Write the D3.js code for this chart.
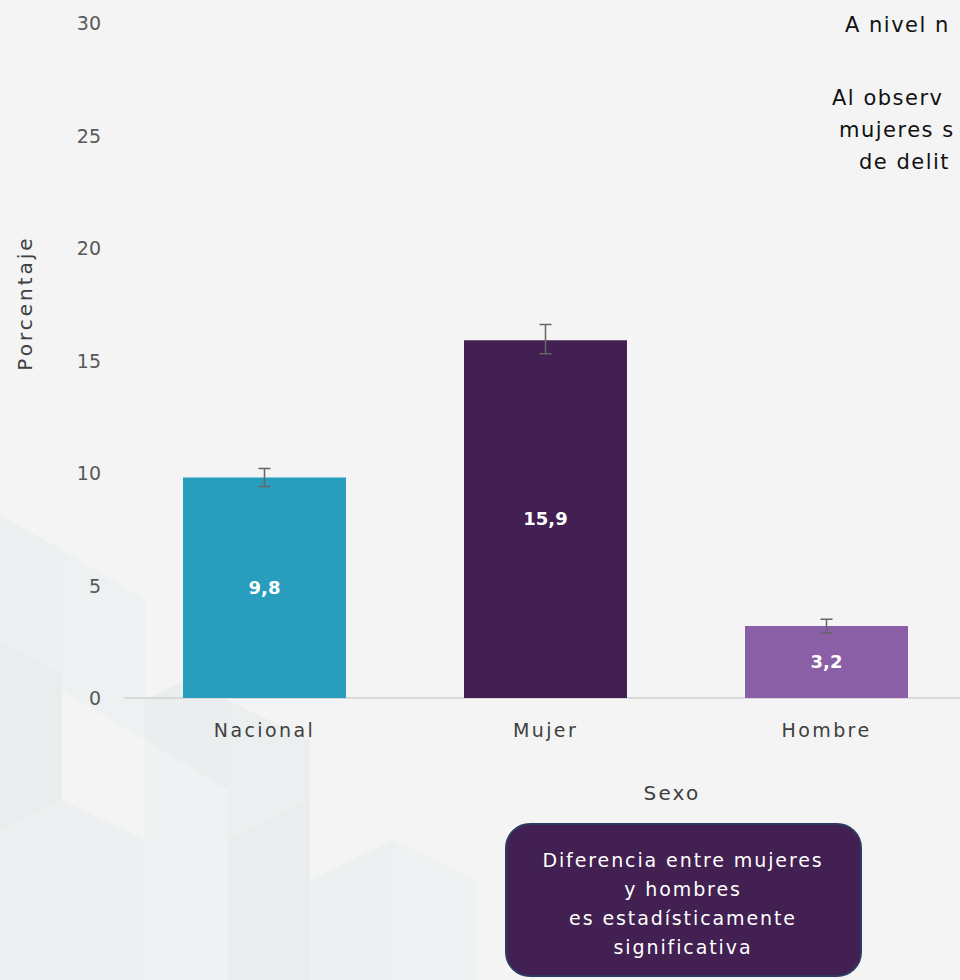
<!DOCTYPE html>
<html><head><meta charset="utf-8">
<script src="https://cdn.jsdelivr.net/npm/d3@7"></script>
<style>html,body{margin:0;padding:0;background:#f4f4f4;overflow:hidden}</style>
</head><body><svg id="c" width="960" height="980"></svg>
<script>
const categories = ["Nacional", "Mujer", "Hombre"];
const values = [9.8, 15.9, 3.2];
const errLow = [9.4, 15.3, 2.9];
const errHigh = [10.2, 16.6, 3.5];
const valueLabels = ["9,8", "15,9", "3,2"];
const barColors = ["#289dbe", "#422051", "#8a5fa5"];
const yTicks = [0, 5, 10, 15, 20, 25, 30];
const noteLines = ["Diferencia entre mujeres", "y hombres", "es  estadísticamente", "significativa"];
const sideText = [["A nivel n", 845, 25], ["Al observ", 832, 98], ["mujeres s", 839, 130], ["de delit", 859, 162]];

const FONT = "'DejaVu Sans', sans-serif";
const svg = d3.select("#c");
svg.append("rect").attr("width", 960).attr("height", 980).attr("fill", "#f4f4f4");

// faint background geometric pattern
const bg = svg.append("g").attr("opacity", 0.45);
const polys = [
  [[0,515],[62,550],[62,800],[0,765]],
  [[0,640],[62,675],[62,800],[0,830]],
  [[62,550],[145,600],[145,740],[62,690]],
  [[145,700],[228,660],[228,840],[145,880]],
  [[62,800],[145,840],[145,980],[62,980]],
  [[145,740],[228,790],[228,980],[145,980]],
  [[228,700],[310,740],[310,800],[228,840]],
  [[228,840],[310,800],[310,980],[228,980]],
  [[0,830],[62,800],[62,980],[0,980]],
  [[310,880],[393,840],[393,980],[310,980]],
  [[393,840],[475,880],[475,980],[393,980]]
];
const pcol = ["#e4ecee","#dfe6e8","#e7eff0","#e2e8ea","#e6ecee","#e9eff0","#e3e9eb","#dfe6e8","#e4eaec","#e6eced","#ebf0f1"];
polys.forEach((p,i)=>bg.append("polygon").attr("points", p.map(d=>d.join(",")).join(" ")).attr("fill", pcol[i]));

const x = d3.scaleBand().domain(categories).range([124, 967]).paddingInner(0.42).paddingOuter(0.21);
const y = d3.scaleLinear().domain([0, 30]).range([698, 23]);

// y axis labels
const yAxis = d3.axisLeft(y).tickValues(yTicks).tickSize(0).tickPadding(0).tickFormat(d3.format("d"));
const yg = svg.append("g").attr("transform", "translate(101,0)").call(yAxis);
yg.select(".domain").remove();
yg.selectAll("text").attr("font-family", FONT).attr("font-size", 19).attr("fill", "#595959").attr("dy", "0.35em");

// baseline
svg.append("line").attr("x1", 124).attr("x2", 960).attr("y1", y(0)).attr("y2", y(0)).attr("stroke", "#d9d9d9").attr("stroke-width", 2);

// bars
svg.selectAll(".bar").data(categories).enter().append("rect")
  .attr("x", d => x(d)).attr("width", x.bandwidth())
  .attr("y", (d,i) => y(values[i])).attr("height", (d,i) => y(0) - y(values[i]))
  .attr("fill", (d,i) => barColors[i]);

// error bars
const eg = svg.append("g").attr("stroke", "#666").attr("stroke-width", 1.5);
categories.forEach((c,i) => {
  const cx = x(c) + x.bandwidth()/2;
  eg.append("line").attr("x1", cx).attr("x2", cx).attr("y1", y(errHigh[i])).attr("y2", y(errLow[i]));
  eg.append("line").attr("x1", cx-6).attr("x2", cx+6).attr("y1", y(errHigh[i])).attr("y2", y(errHigh[i]));
  eg.append("line").attr("x1", cx-6).attr("x2", cx+6).attr("y1", y(errLow[i])).attr("y2", y(errLow[i]));
});

// value labels
svg.selectAll(".vl").data(categories).enter().append("text")
  .attr("x", d => x(d) + x.bandwidth()/2)
  .attr("y", (d,i) => (y(values[i]) + y(0))/2)
  .attr("dy", "0.35em").attr("text-anchor", "middle")
  .attr("font-family", FONT).attr("font-weight", "bold").attr("font-size", 18).attr("fill", "#fff")
  .text((d,i) => valueLabels[i]);

// category labels
const xAxis = d3.axisBottom(x).tickSize(0).tickPadding(0);
const xg = svg.append("g").attr("transform", "translate(0,730)").call(xAxis);
xg.select(".domain").remove();
xg.selectAll("text").attr("font-family", FONT).attr("font-size", 19).attr("fill", "#404040").attr("dy", "0.35em").attr("letter-spacing", 2.4);

// axis titles
svg.append("text").attr("x", 672).attr("y", 793).attr("dy", "0.35em").attr("text-anchor", "middle")
  .attr("font-family", FONT).attr("font-size", 20).attr("fill", "#404040").attr("letter-spacing", 2.2).text("Sexo");
svg.append("text").attr("transform", "translate(25,303) rotate(-90)").attr("dy", "0.35em").attr("text-anchor", "middle")
  .attr("font-family", FONT).attr("font-size", 20).attr("fill", "#404040").attr("letter-spacing", 3).text("Porcentaje");

// side text (cut by the page edge)
sideText.forEach(t => svg.append("text").attr("x", t[1]).attr("y", t[2]).attr("dy", "0.35em")
  .attr("font-family", FONT).attr("font-size", 21).attr("fill", "#111").attr("letter-spacing", 1.5).text(t[0]));

// note box
svg.append("rect").attr("x", 506).attr("y", 824).attr("width", 355).attr("height", 152).attr("rx", 24)
  .attr("fill", "#422051").attr("stroke", "#2e3a62").attr("stroke-width", 2);
noteLines.forEach((l,i) => svg.append("text").attr("x", 683).attr("y", 860 + i*29).attr("dy", "0.35em")
  .attr("text-anchor", "middle").attr("font-family", FONT).attr("font-size", 19).attr("fill", "#fff")
  .attr("letter-spacing", 1.9).text(l));
</script></body></html>
